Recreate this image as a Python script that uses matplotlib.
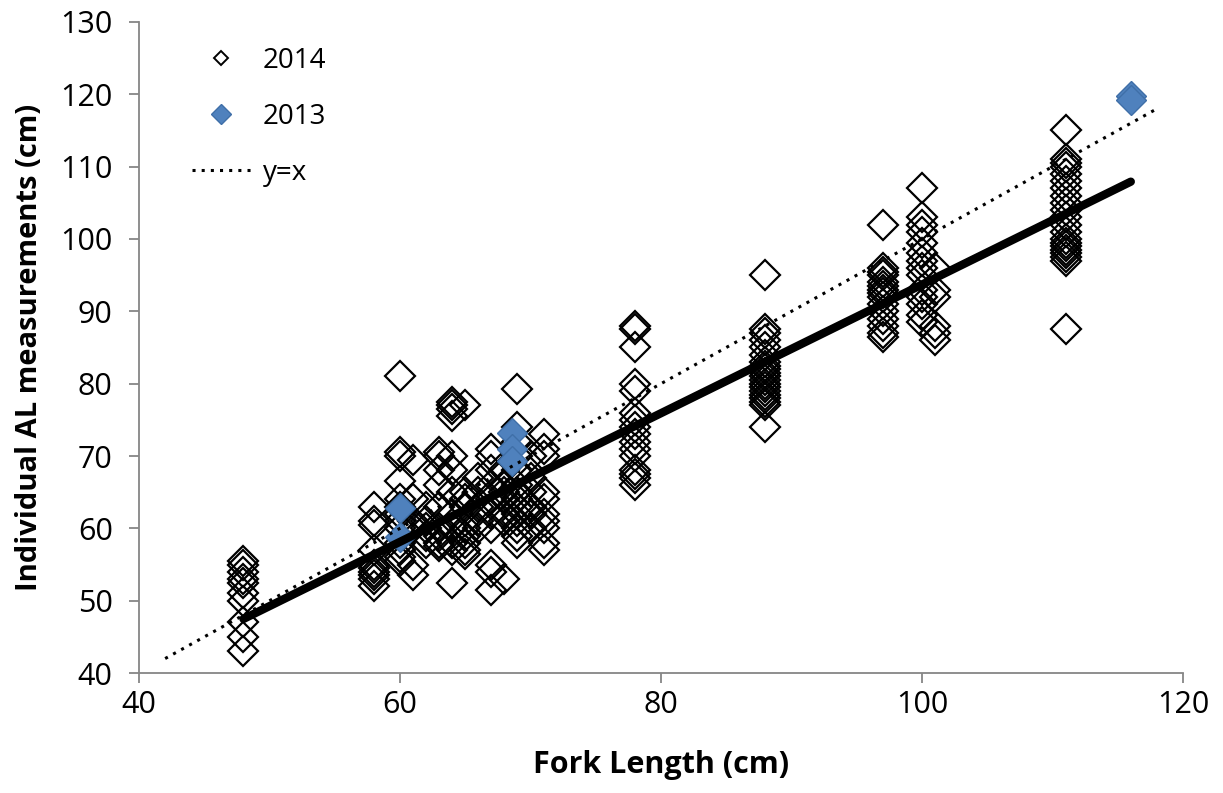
import matplotlib.pyplot as plt
import numpy as np

# fork length columns (cm) and the AL readings seen at each of them, 2014
fork_2014 = [48, 58, 60, 61, 62, 63, 64, 65, 66, 67, 68, 69, 70, 71,
             78, 88, 97, 100, 101, 111]
al_2014 = [
    [55.5, 55, 54, 53, 52.5, 51, 50, 47, 45, 43],
    [63, 61, 60.5, 57, 55, 54.5, 54, 53.5, 53, 52],
    [81, 70.5, 70, 66.5, 64, 63, 62, 61, 60, 58, 57, 56, 55.5],
    [69.5, 64, 61, 60, 55, 53.5],
    [63, 61, 60, 59, 58],
    [70.5, 70, 68, 66, 63, 60, 59, 58, 57.5],
    [77.5, 77, 76.5, 75.5, 70, 68, 65, 62, 60, 58, 57, 52.5],
    [77, 65, 64, 63, 61, 60, 59, 58, 57, 56.5],
    [67, 65, 63, 61, 60],
    [71, 70, 68, 66, 64, 62, 60, 55, 54, 51.5],
    [68, 66, 65, 64, 62, 61, 53],
    [79.3, 74, 72, 70, 68, 66, 65, 64, 63, 62, 61, 60, 59, 58],
    [70, 67, 65, 63, 62, 60],
    [73, 71, 70, 65, 64, 62, 61, 60, 58, 57],
    [88, 87.5, 85, 80, 79, 76, 75, 74, 73, 72, 71, 70, 68, 67.5, 67, 66],
    [95, 87.5, 87, 86, 85, 84, 83, 82.5, 82, 81.5, 81, 80.5, 80, 79.5,
     79, 78.5, 78, 77.5, 77, 74],
    [102, 96, 95.5, 95, 94, 93.5, 93, 92.5, 92, 91, 90, 89, 88, 87, 86.5],
    [107, 103, 102, 101, 99.5, 98, 97, 96, 95, 93, 92, 91, 89.5, 88.5],
    [96, 93, 92, 88, 87, 86],
    [115, 111, 110.5, 110, 109, 108, 107, 106, 105, 104, 103, 102, 101,
     100, 99.5, 99, 98.5, 98, 97.5, 97, 87.5],
]

fork_2013 = [60, 60, 68.6, 68.6, 68.6, 116, 116]
al_2013 = [62.8, 58.8, 73.2, 71.0, 69.3, 119.8, 119.2]

# fitted line and the y=x reference range
trend_slope = 0.889
trend_intercept = 4.8
trend_range = [48, 116]
one_to_one_range = [42, 118]

x14 = np.concatenate([[f] * len(v) for f, v in zip(fork_2014, al_2014)])
y14 = np.concatenate(al_2014)

plt.rcParams['font.family'] = ['Open Sans', 'DejaVu Sans']

fig = plt.figure(figsize=(12.23, 7.93), dpi=100)
ax = fig.add_axes([0.1137, 0.1513, 0.8536, 0.821])

ax.plot(x14, y14, 'D', mfc='none', mec='black', ms=15, mew=1.6,
        label='2014', zorder=3)
ax.plot(fork_2013, al_2013, 'D', mfc='#4F81BD', mec='#3F6FA8', ms=15,
        mew=1.0, label='2013', zorder=4)

xr = np.array(one_to_one_range)
ax.plot(xr, xr, linestyle=(0, (1, 2)), color='black', lw=2.2,
        label='y=x', zorder=5)

xt = np.array(trend_range)
ax.plot(xt, trend_slope * xt + trend_intercept, color='black', lw=6,
        solid_capstyle='round', zorder=6)

ax.set_xlim(40, 120)
ax.set_ylim(40, 130)
ax.set_xticks(range(40, 121, 20))
ax.set_yticks(range(40, 131, 10))

for s in ['top', 'right']:
    ax.spines[s].set_visible(False)
for s in ['left', 'bottom']:
    ax.spines[s].set_color('#868686')
    ax.spines[s].set_linewidth(1.3)
ax.tick_params(direction='out', length=7, width=1.3, color='#868686',
               labelsize=22)
ax.tick_params(axis='x', pad=5)
ax.tick_params(axis='y', pad=12)

ax.set_xlabel('Fork Length (cm)', fontsize=22, fontweight='bold', labelpad=22)
ax.set_ylabel('Individual AL measurements (cm)', fontsize=21,
              fontweight='bold', labelpad=12)

leg = ax.legend(loc='upper left', bbox_to_anchor=(0.027, 1.0),
                frameon=False, fontsize=20, handlelength=2.1,
                labelspacing=1.0, handletextpad=0.45)
leg.legend_handles[0].set_markersize(7)
leg.legend_handles[0].set_markeredgewidth(1.4)
leg.legend_handles[1].set_markersize(10)

fig.savefig('out.png', dpi=100)
